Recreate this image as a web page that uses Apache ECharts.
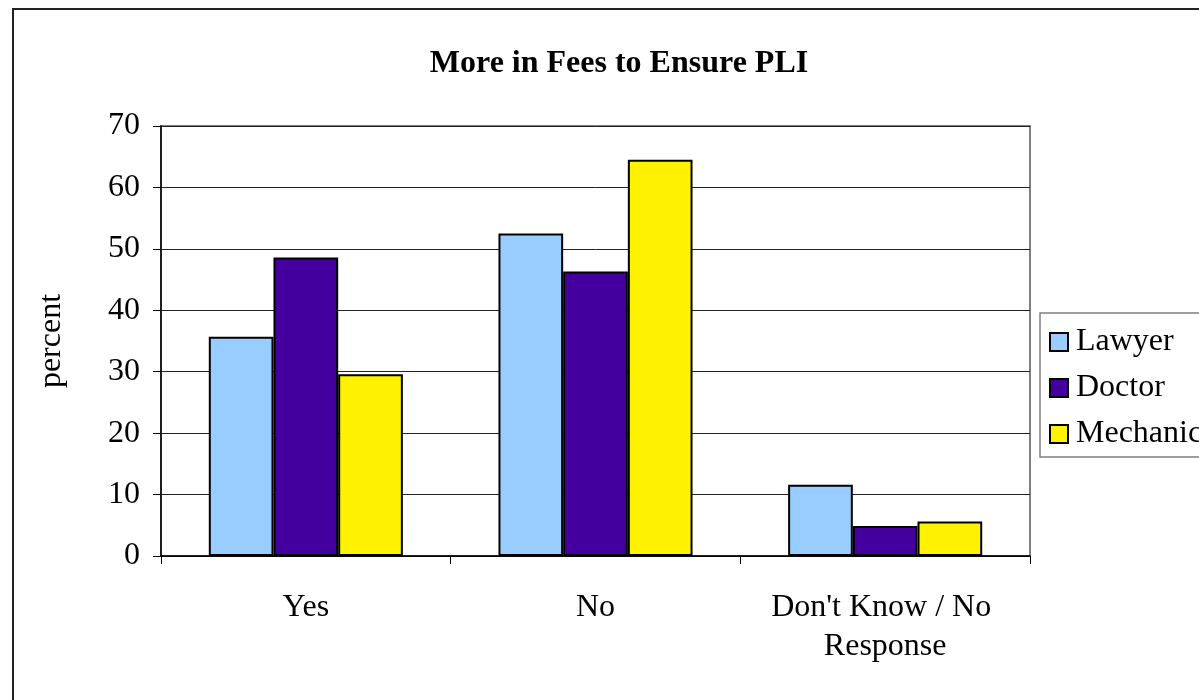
<!DOCTYPE html>
<html>
<head>
<meta charset="utf-8">
<script src="https://cdn.jsdelivr.net/npm/echarts@6/dist/echarts.min.js"></script>
<style>
  html, body { margin: 0; padding: 0; background: #ffffff; }
  #chart { width: 1199px; height: 700px; }
</style>
</head>
<body>
<div id="chart"></div>
<script>
// Survey answers: would respondents pay more in fees to ensure PLI
const categories = ['Yes', 'No', "Don't Know / No Response"];
const lawyer = [35.7, 52.5, 11.6];
const doctor = [48.6, 46.3, 4.9];
const mechanic = [29.6, 64.5, 5.6];
const yTicks = { min: 0, max: 70, interval: 10 };

const FONT = 'Liberation Serif';
const chart = echarts.init(document.getElementById('chart'));

function barSeries(name, data, color) {
  return {
    name: name,
    type: 'bar',
    data: data,
    barGap: '0%',
    barCategoryGap: '33%',
    itemStyle: { color: color, borderColor: '#000', borderWidth: 2 }
  };
}

chart.setOption({
  animation: false,
  backgroundColor: '#ffffff',
  textStyle: { fontFamily: FONT },
  graphic: [{
    type: 'rect',
    z: -1,
    shape: { x: 13, y: 9, width: 1400, height: 900 },
    style: { fill: 'none', stroke: '#222', lineWidth: 2 }
  }],
  title: {
    text: 'More in Fees to Ensure PLI',
    left: 614,
    textAlign: 'center',
    top: 43,
    textStyle: { fontFamily: FONT, fontSize: 32, fontWeight: 'bold', color: '#000' }
  },
  grid: {
    left: 161, right: 169, top: 126, bottom: 144,
    show: true, borderColor: '#808080', borderWidth: 2, backgroundColor: 'transparent'
  },
  legend: {
    orient: 'vertical',
    left: 1040,
    top: 313,
    padding: [13, 60, 7, 9],
    itemGap: 14,
    itemWidth: 18,
    itemHeight: 18,
    icon: 'rect',
    borderColor: '#808080',
    borderWidth: 1.5,
    textStyle: { fontFamily: FONT, fontSize: 32, color: '#000', padding: [0, 0, 0, 3], lineHeight: 32 },
    data: ['Lawyer', 'Doctor', 'Mechanic']
  },
  xAxis: {
    type: 'category',
    data: categories,
    axisLine: { lineStyle: { color: '#000', width: 1.5 } },
    axisTick: { show: true, length: 8, lineStyle: { color: '#000' } },
    axisLabel: {
      fontFamily: FONT, fontSize: 32, color: '#000', margin: 32, lineHeight: 39,
      width: 260, overflow: 'break', interval: 0
    }
  },
  yAxis: {
    type: 'value',
    min: yTicks.min, max: yTicks.max, interval: yTicks.interval,
    name: 'percent',
    nameLocation: 'middle',
    nameGap: 93,
    nameTextStyle: { fontFamily: FONT, fontSize: 32, color: '#000' },
    axisLine: { show: true, lineStyle: { color: '#000', width: 1.5 } },
    axisTick: { show: true, length: 8, lineStyle: { color: '#000' } },
    axisLabel: { fontFamily: FONT, fontSize: 32, color: '#000', margin: 21 },
    splitLine: { lineStyle: { color: '#222', width: 1 } }
  },
  series: [
    barSeries('Lawyer', lawyer, '#99CCFF'),
    barSeries('Doctor', doctor, '#44009E'),
    barSeries('Mechanic', mechanic, '#FFF200')
  ]
});
</script>
</body>
</html>
